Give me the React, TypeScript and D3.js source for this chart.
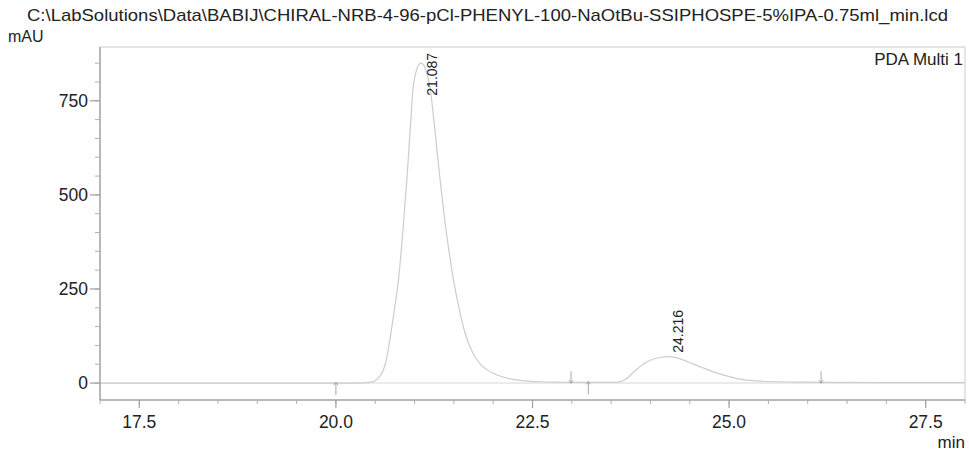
import React from "react";
import * as d3 from "d3";

const titleText =
  "C:\\LabSolutions\\Data\\BABIJ\\CHIRAL-NRB-4-96-pCl-PHENYL-100-NaOtBu-SSIPHOSPE-5%IPA-0.75ml_min.lcd";
const yUnit = "mAU";
const xUnit = "min";
const channelName = "PDA Multi 1";

const xTicks = [17.5, 20.0, 22.5, 25.0, 27.5];
const yTicks = [0, 250, 500, 750];

const traceTime = [
  17.0, 20.0, 20.4, 20.48, 20.53, 20.584, 20.63, 20.668, 20.73, 20.795, 20.85,
  20.902, 20.95, 20.985, 21.02, 21.05, 21.087, 21.12, 21.15, 21.189, 21.25,
  21.325, 21.38, 21.43, 21.5, 21.579, 21.64, 21.706, 21.78, 21.871, 22.0,
  22.125, 22.25, 22.4, 22.6, 22.8, 22.99, 23.2, 23.5, 23.61, 23.7, 23.78,
  23.87, 23.95, 24.04, 24.12, 24.205, 24.29, 24.37, 24.45, 24.54, 24.65,
  24.76, 24.87, 24.97, 25.1, 25.22, 25.4, 25.6, 25.9, 26.17, 28.0,
];
const traceValue = [
  0, 0, 1, 4, 11, 26, 52, 92, 175, 274, 400, 540, 690, 790, 828, 845, 850, 844,
  826, 795, 690, 540, 440, 362, 268, 186, 135, 96, 66, 43, 26, 16, 10, 6, 3.5,
  2.5, 2, 2, 2, 3, 12, 28, 44, 56, 64, 68, 70, 69, 65, 59, 51, 42, 33, 25, 19,
  12, 8, 5, 3.5, 2.5, 2, 1,
];

const peakTimes = [21.087, 24.216];
const peakValues = [850, 70];
const peakLabels = ["21.087", "24.216"];
const peakStarts = [20.0, 23.21];
const peakEnds = [22.99, 26.17];
const startValues = [0, 2];
const endValues = [2, 2];

const W = 969;
const H = 453;
const left = 100;
const right = 965;
const top = 47;
const bottom = 400;
const font = "'Liberation Sans', Arial, sans-serif";
const textColor = "#222";

export default function App() {
  const x = d3.scaleLinear().domain([17.0, 28.0]).range([left, right]);
  const y = d3.scaleLinear().domain([-45, 893]).range([bottom, top]);

  const pts: [number, number][] = traceTime.map((t, i) => [t, traceValue[i]]);
  const line = d3
    .line<[number, number]>()
    .x((d) => x(d[0]))
    .y((d) => y(d[1]))
    .curve(d3.curveCatmullRom.alpha(0.5));

  const xMinor = d3.range(17.0, 28.01, 0.5);
  const yMinor = d3.range(0, 893, 50);

  const labelSize = 14;
  return (
    <svg
      width={W}
      height={H}
      style={{ position: "absolute", left: 0, top: 0, background: "#fff" }}
      fontFamily={font}
    >
      <rect x={0} y={0} width={W} height={H} fill="#fff" />
      <text x={27} y={21} fontSize={17} fill={textColor} textLength={921} lengthAdjust="spacingAndGlyphs">
        {titleText}
      </text>
      <text x={8} y={42} fontSize={16} fill={textColor}>
        {yUnit}
      </text>

      {/* frame */}
      <line x1={left} x2={right} y1={top} y2={top} stroke="#dcdcdc" strokeWidth={1.5} />
      <line x1={right} x2={right} y1={top} y2={bottom} stroke="#dcdcdc" strokeWidth={1.5} />
      {/* zero line */}
      <line x1={left} x2={right} y1={y(0)} y2={y(0)} stroke="#e4e4e4" strokeWidth={1.5} />

      {/* trace */}
      <path d={line(pts) || ""} fill="none" stroke="#cdcdcd" strokeWidth={1.2} />

      {/* integration markers */}
      {peakStarts.map((t, i) => (
        <g key={"s" + i} stroke="#a8a8a8" strokeWidth={1} fill="none">
          <line x1={x(t)} x2={x(t)} y1={y(startValues[i]) - 1} y2={y(startValues[i]) + 12} />
          <polyline
            points={`${x(t) - 2},${y(startValues[i]) + 2} ${x(t)},${y(startValues[i]) - 1} ${x(t) + 2},${y(startValues[i]) + 2}`}
          />
        </g>
      ))}
      {peakEnds.map((t, i) => (
        <g key={"e" + i} stroke="#a8a8a8" strokeWidth={1} fill="none">
          <line x1={x(t)} x2={x(t)} y1={y(endValues[i]) - 11} y2={y(endValues[i]) + 1} />
          <polyline
            points={`${x(t) - 2},${y(endValues[i]) - 2} ${x(t)},${y(endValues[i]) + 1} ${x(t) + 2},${y(endValues[i]) - 2}`}
          />
        </g>
      ))}

      {/* peak labels */}
      {peakTimes.map((t, i) => {
        const len = peakLabels[i].length * 0.52 * labelSize;
        const sy = Math.max(y(peakValues[i]) - 4, top + 5 + len);
        const sx = x(t) + 16;
        return (
          <text
            key={"p" + i}
            transform={`translate(${sx},${sy}) rotate(-90)`}
            fontSize={labelSize}
            fill={textColor}
          >
            {peakLabels[i]}
          </text>
        );
      })}

      <text x={963} y={65} fontSize={17} fill={textColor} textAnchor="end">
        {channelName}
      </text>

      {/* axes */}
      <line x1={left} x2={left} y1={top} y2={bottom} stroke="#a0a0a0" strokeWidth={1.5} />
      <line x1={left} x2={right} y1={bottom} y2={bottom} stroke="#a0a0a0" strokeWidth={1.5} />

      {yMinor.map((v) => (
        <line key={"ym" + v} x1={left - 5} x2={left} y1={y(v)} y2={y(v)} stroke="#b0b0b0" strokeWidth={1} />
      ))}
      {yTicks.map((v) => (
        <g key={"y" + v}>
          <line x1={left - 10} x2={left} y1={y(v)} y2={y(v)} stroke="#a0a0a0" strokeWidth={1.2} />
          <text x={88} y={y(v) + 6} fontSize={17.5} fill={textColor} textAnchor="end">
            {String(v)}
          </text>
        </g>
      ))}

      {xMinor.map((v) => (
        <line key={"xm" + v} x1={x(v)} x2={x(v)} y1={bottom} y2={bottom + 4} stroke="#b0b0b0" strokeWidth={1} />
      ))}
      {xTicks.map((v) => (
        <g key={"x" + v}>
          <line x1={x(v)} x2={x(v)} y1={bottom} y2={bottom + 8} stroke="#a0a0a0" strokeWidth={1.2} />
          <text x={x(v)} y={428} fontSize={17.5} fill={textColor} textAnchor="middle">
            {v.toFixed(1)}
          </text>
        </g>
      ))}
      <text x={965} y={448} fontSize={17} fill={textColor} textAnchor="end">
        {xUnit}
      </text>
    </svg>
  );
}
